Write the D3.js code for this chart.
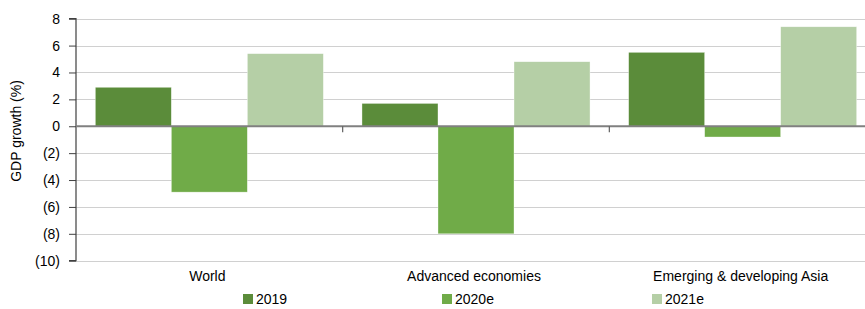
<!DOCTYPE html>
<html><head><meta charset="utf-8">
<script src="https://cdn.jsdelivr.net/npm/d3@7"></script>
<style>body{margin:0;background:#fff}text{font-family:"Liberation Sans",Arial,sans-serif}</style>
</head><body><svg id="c" width="865" height="309"></svg>
<script>
const categories = ["World", "Advanced economies", "Emerging & developing Asia"];
const seriesNames = ["2019", "2020e", "2021e"];
const v2019 = [2.9, 1.7, 5.5];
const v2020e = [-4.9, -8.0, -0.8];
const v2021e = [5.4, 4.8, 7.4];
const yTicks = [8, 6, 4, 2, 0, -2, -4, -6, -8, -10];
const colors = ["#5b8c3a", "#70ab48", "#b5cfa6"];

const svg = d3.select("#c");
const L = 76, R = 876, T = 18.7, B = 260.7;
const y = d3.scaleLinear().domain([-10, 8]).range([B, T]);
const x0 = d3.scaleBand().domain(categories).range([L, R]).paddingInner(0).paddingOuter(0);
const x1 = d3.scaleBand().domain(seriesNames).range([0, x0.bandwidth()]).paddingOuter(0.254).paddingInner(0);
const series = [v2019, v2020e, v2021e];

// gridlines
svg.append("g").selectAll("line").data(yTicks.filter(d => d !== 0)).join("line")
  .attr("x1", L).attr("x2", 865).attr("y1", d => Math.round(y(d)) + 0.5).attr("y2", d => Math.round(y(d)) + 0.5)
  .attr("stroke", "#d0d0d0").attr("stroke-width", 1.2);

// bars
seriesNames.forEach((s, si) => {
  svg.append("g").selectAll("rect").data(categories).join("rect")
    .attr("x", c => x0(c) + x1(s))
    .attr("width", x1.bandwidth())
    .attr("y", (c, i) => y(Math.max(0, series[si][i])))
    .attr("height", (c, i) => Math.abs(y(series[si][i]) - y(0)))
    .attr("fill", colors[si])
    .attr("stroke", "#fff").attr("stroke-width", 0.6).attr("stroke-opacity", 0.6);
});

// y axis
const ya = svg.append("g").attr("transform", `translate(${L},0)`)
  .call(d3.axisLeft(y).tickValues(yTicks).tickSize(7).tickPadding(9)
    .tickFormat(d => d < 0 ? `(${-d})` : d));
ya.select(".domain").attr("stroke", "#404040").attr("stroke-width", 1.2).attr("d", `M-7,${T}H0V${B}H-7`);
ya.selectAll(".tick line").attr("stroke", "#404040");
ya.selectAll(".tick text").attr("font-size", 14).attr("fill", "#000");

// zero line
svg.append("line").attr("x1", L).attr("x2", 865).attr("y1", y(0)).attr("y2", y(0))
  .attr("stroke", "#808080").attr("stroke-width", 2);
// category ticks
svg.append("g").selectAll("line").data(categories.slice(1)).join("line")
  .attr("x1", c => x0(c)).attr("x2", c => x0(c)).attr("y1", y(0)).attr("y2", y(0) + 6)
  .attr("stroke", "#606060").attr("stroke-width", 1.2);

// category labels
svg.append("g").selectAll("text").data(categories).join("text")
  .attr("x", c => x0(c) + x0.bandwidth() / 2 - 2).attr("y", 281)
  .attr("text-anchor", "middle").attr("font-size", 14).attr("fill", "#000").text(c => c);

// y title
svg.append("text").attr("transform", `translate(21,131) rotate(-90)`)
  .attr("text-anchor", "middle").attr("font-size", 14).attr("fill", "#000").text("GDP growth (%)");

// legend
const legX = [243, 442, 652];
const lg = svg.append("g").selectAll("g").data(seriesNames).join("g")
  .attr("transform", (d, i) => `translate(${legX[i]},0)`);
lg.append("rect").attr("x", 0).attr("y", 294).attr("width", 10).attr("height", 10).attr("fill", (d, i) => colors[i]);
lg.append("text").attr("x", 13).attr("y", 304).attr("font-size", 14).attr("fill", "#000").text(d => d);
</script></body></html>
